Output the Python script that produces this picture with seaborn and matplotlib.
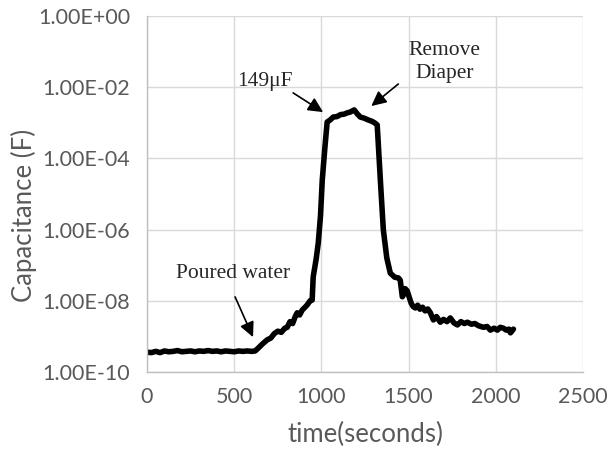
import matplotlib
matplotlib.use("Agg")
import matplotlib.pyplot as plt
import matplotlib.ticker as mticker
import numpy as np
import pandas as pd
import seaborn as sns

# time (s) and capacitance (F)
time_s = [0, 25, 50, 75, 100, 125, 150, 175, 200, 225, 250, 275, 300, 325, 350,
          375, 400, 425, 450, 475, 500, 525, 550, 575, 600, 620,
          640, 660, 689, 710, 730, 750, 770, 790, 804, 820, 835, 850, 861, 875,
          890, 905, 918, 935, 947, 953, 970, 982, 995, 1005, 1020, 1033,
          1050, 1068, 1090, 1110, 1130, 1148, 1165, 1188, 1205, 1223, 1245,
          1269, 1290, 1305, 1320,
          1338, 1355, 1375, 1395, 1420, 1441, 1452, 1464, 1470, 1480, 1492,
          1505, 1515, 1527, 1539, 1552, 1565, 1580, 1595, 1610, 1625, 1642,
          1660, 1682, 1700, 1720, 1739, 1760, 1780, 1800, 1820, 1837, 1860,
          1880, 1900, 1929, 1950, 1969, 1990, 2009, 2025, 2044, 2060, 2075,
          2084, 2101]
capacitance = [3.6e-10, 3.5e-10, 3.8e-10, 3.5e-10, 3.9e-10, 3.7e-10, 3.8e-10, 4.0e-10,
               3.7e-10, 3.8e-10, 3.9e-10, 3.7e-10, 3.9e-10, 3.8e-10, 4.0e-10,
               3.8e-10, 3.9e-10, 3.7e-10, 3.9e-10, 3.8e-10, 3.7e-10, 3.9e-10,
               3.8e-10, 3.9e-10, 3.8e-10, 3.9e-10,
               4.8e-10, 6.0e-10, 8.0e-10, 9.0e-10, 1.2e-9, 1.4e-9, 1.3e-9, 1.7e-9,
               1.8e-9, 2.6e-9, 2.3e-9, 3.6e-9, 4.6e-9, 4.0e-9, 5.5e-9, 6.5e-9,
               7.6e-9, 1.0e-8, 1.05e-8, 4.7e-8, 1.5e-7, 4.2e-7, 2.5e-6, 2.5e-5,
               2.0e-4, 1.05e-3,
               1.2e-3, 1.45e-3, 1.5e-3, 1.7e-3, 1.75e-3, 1.9e-3, 2.0e-3, 2.3e-3,
               1.8e-3, 1.45e-3, 1.35e-3, 1.2e-3, 1.1e-3, 1.0e-3, 8.7e-4,
               2.5e-5, 1.0e-6, 1.6e-7, 6.0e-8, 4.6e-8, 4.4e-8, 3.8e-8, 1.3e-8,
               1.45e-8, 2.2e-8, 1.9e-8, 1.2e-8, 8.5e-9, 6.8e-9, 6.3e-9, 7.5e-9,
               5.8e-9, 6.6e-9, 5.2e-9, 5.9e-9, 4.6e-9, 2.9e-9, 3.6e-9, 2.5e-9,
               3.0e-9, 2.6e-9, 3.3e-9, 2.4e-9, 2.1e-9, 2.6e-9, 2.3e-9, 2.5e-9,
               2.2e-9, 2.3e-9, 2.0e-9, 1.8e-9, 1.9e-9, 1.5e-9, 1.7e-9, 1.5e-9,
               1.8e-9, 1.7e-9, 1.5e-9, 1.6e-9, 1.26e-9, 1.6e-9]

x_ticks = [0, 500, 1000, 1500, 2000, 2500]
y_ticks = [1e-10, 1e-8, 1e-6, 1e-4, 1e-2, 1e0]

df = pd.DataFrame({"time": time_s, "cap": capacitance})

sns.set_style("white")
plt.rcParams["font.family"] = ["Lato", "DejaVu Sans"]

fig = plt.figure(figsize=(6.08, 4.51), dpi=100)
ax = fig.add_axes([147 / 608, 1 - 372 / 451, 436 / 608, 356 / 451])

sns.lineplot(data=df, x="time", y="cap", ax=ax, color="black", lw=4.0, sort=False)

ax.set_yscale("log")
ax.set_xlim(0, 2500)
ax.set_ylim(1e-10, 1)
ax.xaxis.set_major_locator(mticker.FixedLocator(x_ticks))
ax.yaxis.set_major_locator(mticker.FixedLocator(y_ticks))
ax.yaxis.set_minor_locator(mticker.NullLocator())
ax.yaxis.set_major_formatter(mticker.FuncFormatter(lambda v, p: f"{v:.2E}"))

ax.grid(True, color="#d9d9d9", lw=1.0)
ax.set_axisbelow(True)
for s in ["top", "right"]:
    ax.spines[s].set_visible(False)
for s in ["left", "bottom"]:
    ax.spines[s].set_color("#bfbfbf")
    ax.spines[s].set_linewidth(1.0)

ax.tick_params(axis="both", length=0, labelsize=15.5, colors="#595959")
ax.tick_params(axis="x", pad=10.5)
ax.tick_params(axis="y", pad=12)

ax.set_xlabel("time(seconds)", fontsize=18.5, color="#595959", labelpad=11)
ax.set_ylabel("Capacitance (F)", fontsize=18.5, color="#595959")
ax.yaxis.set_label_coords(-0.252, 0.44)

serif = ["Liberation Serif", "DejaVu Serif"]
arrow = dict(arrowstyle="-|>,head_length=0.45,head_width=0.22",
             color="black", lw=1.2, mutation_scale=20, shrinkA=0, shrinkB=0)

ax.text(677, 10 ** -1.85, "149\u03bcF", family=serif, fontsize=15.5,
        ha="center", va="center")
ax.annotate("", xy=(1010, 10 ** -2.70), xytext=(838, 10 ** -2.16),
            arrowprops=arrow)

ax.text(1705, 10 ** -1.29, "Remove\nDiaper", family=serif, fontsize=15.5,
        ha="center", va="center", linespacing=1.25)
ax.annotate("", xy=(1286, 10 ** -2.53), xytext=(1441, 10 ** -1.91),
            arrowprops=arrow)

ax.text(494, 10 ** -7.22, "Poured water", family=serif, fontsize=15.5,
        ha="center", va="center")
ax.annotate("", xy=(608, 10 ** -9.02), xytext=(505, 10 ** -7.89),
            arrowprops=arrow)

fig.savefig("out.png", dpi=100)
